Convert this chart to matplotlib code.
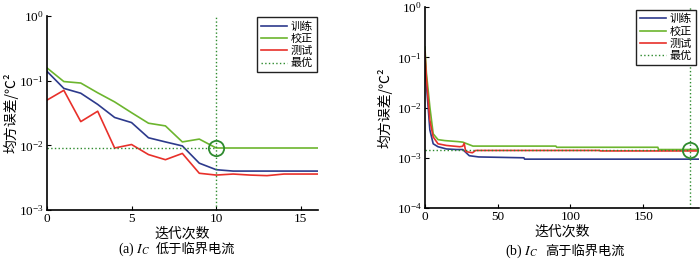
import matplotlib
matplotlib.use("Agg")
import matplotlib.pyplot as plt
import numpy as np

plt.rcParams['font.family'] = ['Liberation Serif', 'Noto Sans CJK SC']
plt.rcParams['mathtext.fontset'] = 'stix'

# ---- panel (a): I_C below critical current ----
epochs_a = list(range(17))
train_a = [0.14, 0.076, 0.064, 0.043, 0.027, 0.0225, 0.0131, 0.0113, 0.0098,
           0.0053, 0.0042, 0.0040, 0.0040, 0.0040, 0.0040, 0.0040, 0.0040]
valid_a = [0.158, 0.097, 0.092, 0.065, 0.047, 0.032, 0.022, 0.020, 0.0113,
           0.0125, 0.0091, 0.0091, 0.0091, 0.0091, 0.0091, 0.0091, 0.0091]
test_a = [0.050, 0.071, 0.0233, 0.0337, 0.0091, 0.0103, 0.0072, 0.0060, 0.0075,
          0.0037, 0.00347, 0.0036, 0.00347, 0.0034, 0.0036, 0.0036, 0.0036]
best_a = (10, 0.0091)

# ---- panel (b): I_C above critical current ----
train_b_x = [0, 1, 3.4, 5.7, 9, 14.8, 21.7, 26, 30.5, 37, 68, 68.5, 188]
train_b_y = [0.10, 0.03, 0.0036, 0.0019, 0.00166, 0.0015, 0.00146, 0.00146,
             0.0011, 0.00104, 0.001, 0.00094, 0.00094]
valid_b_x = [0, 1, 3.4, 5.7, 9, 13.7, 22.8, 26, 31.9, 33, 90, 90.5, 160, 160.5, 188]
valid_b_y = [0.16, 0.05, 0.0103, 0.003, 0.0023, 0.0022, 0.0021, 0.00205, 0.00176,
             0.00171, 0.00171, 0.00162, 0.00162, 0.00146, 0.00146]
test_b_x = [0, 1, 3.4, 5.7, 9, 14.8, 24, 26, 27, 28, 32.6, 34.9, 120, 120.5, 188]
test_b_y = [0.128, 0.04, 0.0056, 0.0026, 0.0019, 0.00176, 0.00166, 0.0017, 0.00195,
            0.00133, 0.00126, 0.0014, 0.0014, 0.00137, 0.00137]
best_b = (182, 0.00145)

labels = ['训练', '校正', '测试', '最优']

c_blue = '#2d3a8c'
c_green = '#6cb52e'
c_red = '#e8302a'
c_best = '#2e8b2e'

cjk = ['Noto Sans CJK SC', 'DejaVu Sans']

fig = plt.figure(figsize=(7.0, 2.63), dpi=100)
ax1 = fig.add_axes([0.067, 0.2015, 0.387, 0.7375])
ax2 = fig.add_axes([0.607, 0.209, 0.391, 0.764])


def style(ax, ylim, xlim, xticks, ylab_x):
    ax.set_yscale('log')
    ax.set_ylim(*ylim)
    ax.set_xlim(*xlim)
    ax.set_xticks(xticks)
    ax.yaxis.set_minor_locator(matplotlib.ticker.NullLocator())
    for s in ['top', 'right']:
        ax.spines[s].set_visible(False)
    for s in ['left', 'bottom']:
        ax.spines[s].set_linewidth(1.2)
    ax.tick_params(direction='in', labelsize=9.5, length=3, pad=2)
    ax.set_ylabel('均方误差/℃²', family=cjk, fontsize=10)
    ax.yaxis.set_label_coords(ylab_x, 0.5)
    ax.set_xlabel('迭代次数', family=cjk, fontsize=10, labelpad=1)


def draw(ax, xs, tr, va, te, best):
    ax.plot(xs[0], tr, color=c_blue, lw=1.2, label=labels[0])
    ax.plot(xs[1], va, color=c_green, lw=1.2, label=labels[1])
    ax.plot(xs[2], te, color=c_red, lw=1.2, label=labels[2])
    ax.plot([0, best[0]], [best[1], best[1]], ls=':', color=c_best, lw=1.0, label=labels[3])
    ax.axvline(best[0], ls=':', color=c_best, lw=1.0)
    ax.plot([best[0]], [best[1]], 'o', mfc='none', mec=c_best, ms=11, mew=1.3)


def legend(ax, pad):
    ax.legend(loc='upper right', prop={'family': cjk, 'size': 8}, frameon=True,
              fancybox=False, edgecolor='#222222', handlelength=2.4,
              handletextpad=0.3, borderpad=0.35, labelspacing=0.2,
              borderaxespad=pad, framealpha=1)


draw(ax1, [epochs_a] * 3, train_a, valid_a, test_a, best_a)
style(ax1, (1e-3, 1), (0, 16), [0, 5, 10, 15], -0.105)
legend(ax1, 0.1)

draw(ax2, [train_b_x, valid_b_x, test_b_x], train_b_y, valid_b_y, test_b_y, best_b)
style(ax2, (1e-4, 1), (0, 188), [0, 50, 100, 150], -0.12)
legend(ax2, 0.25)

# captions: math part and CJK part as separate texts
fig.text(0.215, 0.04, '(a) $I_C$', ha='right', fontsize=10)
fig.text(0.222, 0.04, '低于临界电流', ha='left', fontsize=9.5, family=cjk)
fig.text(0.769, 0.03, '(b) $I_C$', ha='right', fontsize=10)
fig.text(0.779, 0.03, '高于临界电流', ha='left', fontsize=9.5, family=cjk)

fig.savefig('out.png', dpi=100)
